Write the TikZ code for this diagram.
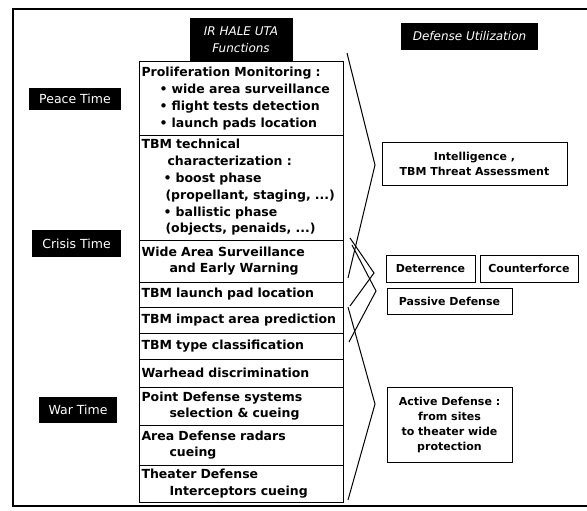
\documentclass[tikz,border=0pt]{standalone}
\usepackage{fontspec}
\setmainfont{DejaVu Sans}
\usepackage{tikz}
\usetikzlibrary{positioning, calc}

\begin{document}
\begin{tikzpicture}[x=1pt, y=-1pt,
  fn/.style={rectangle, draw, line width=1pt, outer sep=0pt, inner xsep=2.5pt, inner ysep=0pt, text width=199pt, align=left, font=\bfseries\fontsize{12.5}{16.8}\selectfont},
  tag/.style={rectangle, fill=black, text=white, inner sep=0pt, font=\fontsize{12.5}{15}\selectfont},
  hdr/.style={rectangle, fill=black, text=white, inner sep=0pt, align=center, font=\itshape\fontsize{12}{17}\selectfont},
  util/.style={rectangle, draw, line width=1pt, inner sep=0pt, align=center, font=\bfseries\fontsize{11}{15}\selectfont},
  brk/.style={line width=1pt}
]
\useasboundingbox (0,0) rectangle (587,511);
\draw[line width=1.2pt] (587,9) -- (13,9) -- (13,506) -- (587,506);

\node[fn, anchor=north west, minimum height=73pt] (r1) at (139,62) {Proliferation Monitoring :\\\hspace*{18pt}• wide area surveillance\\\hspace*{18pt}• flight tests detection\\\hspace*{18pt}• launch pads location};
\node[fn, below=0pt of r1, minimum height=105pt] (r2) {TBM technical\\\hspace*{26pt}characterization :\\\hspace*{22pt}• boost phase\\\hspace*{24pt}(propellant, staging, ...)\\\hspace*{22pt}• ballistic phase\\\hspace*{24pt}(objects, penaids, ...)};
\node[fn, below=0pt of r2, minimum height=42pt] (r3) {Wide Area Surveillance\\\hspace*{28pt}and Early Warning};
\node[fn, below=0pt of r3, minimum height=25pt] (r4) {TBM launch pad location};
\node[fn, below=0pt of r4, minimum height=26pt] (r5) {TBM impact area prediction};
\node[fn, below=0pt of r5, minimum height=26pt] (r6) {TBM type classification};
\node[fn, below=0pt of r6, minimum height=28pt] (r7) {Warhead discrimination};
\node[fn, below=0pt of r7, minimum height=38pt] (r8) {Point Defense systems\\\hspace*{28pt}selection \& cueing};
\node[fn, below=0pt of r8, minimum height=40pt] (r9) {Area Defense radars\\\hspace*{28pt}cueing};
\node[fn, below=0pt of r9, minimum height=37pt] (r10) {Theater Defense\\\hspace*{28pt}Interceptors cueing};

\node[hdr, above=0pt of r1, minimum width=103pt, minimum height=44pt] (fnhdr) {IR HALE UTA\\Functions};
\node[hdr, minimum width=137pt, minimum height=27pt] (usehdr) at (469.5,36.5) {Defense Utilization};

\node[tag, minimum width=92pt, minimum height=22pt] (peace) at (75,99) {Peace Time};
\node[tag, minimum width=89pt, minimum height=27pt] (crisis) at (76.5,243.5) {Crisis Time};
\node[tag, minimum width=78pt, minimum height=26pt] (war) at (78,410) {War Time};

\node[util, minimum width=185pt, minimum height=43pt] (intel) at (474.5,163.5) {Intelligence ,\\TBM Threat Assessment};
\node[util, minimum width=89pt, minimum height=27pt] (deter) at (430.5,268.5) {Deterrence};
\node[util, right=4pt of deter, minimum width=98pt, minimum height=27pt] (counter) {Counterforce};
\node[util, minimum width=125pt, minimum height=26pt] (passive) at (449.5,301) {Passive Defense};
\node[util, minimum width=125pt, minimum height=75pt] (active) at (449.5,424.5) {Active Defense :\\from sites\\to theater wide\\protection};

\draw[brk] (347,53) -- (375,165) -- (348,278);
\draw[brk] (350,238) -- (374,273) -- (350,306);
\draw[brk] (352,245) -- (376,291) -- (349,342);
\draw[brk] (348,307) -- (375,404) -- (348,500);
\end{tikzpicture}
\end{document}
